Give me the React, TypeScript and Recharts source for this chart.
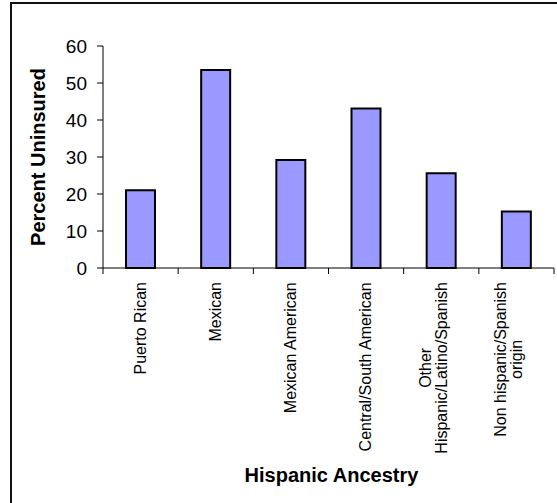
import { BarChart, Bar, XAxis, YAxis } from 'recharts'

const categories = [
  'Puerto Rican',
  'Mexican',
  'Mexican American',
  'Central/South American',
  'Other\nHispanic/Latino/Spanish',
  'Non hispanic/Spanish\norigin',
]
const uninsured = [21, 53.5, 29.2, 43.1, 25.6, 15.3]
const yTicks = [0, 10, 20, 30, 40, 50, 60]

const data = categories.map((name, i) => ({ name, value: uninsured[i] }))

const FONT = "Arial, 'Liberation Sans', sans-serif"

let ctx: CanvasRenderingContext2D | null = null
function measure(s: string, size: number) {
  if (!ctx) ctx = document.createElement('canvas').getContext('2d')
  if (!ctx) return s.length * size * 0.5
  ctx.font = `${size}px Arial, 'Liberation Sans', sans-serif`
  return ctx.measureText(s).width
}

// category labels rotated, plus tick marks on the category boundaries (Excel style)
function CategoryTick(props: any) {
  const { x, y, payload, index, visibleTicksCount, width } = props
  const half = payload.offset || width / visibleTicksCount / 2
  const lines = String(payload.value).split('\n')
  const size = 16
  const longest = Math.max(...lines.map((l) => measure(l, size)))
  const n = lines.length
  return (
    <g>
      <line x1={x - half} x2={x - half} y1={y} y2={y + 6} stroke="#000" />
      {index === visibleTicksCount - 1 && <line x1={x + half} x2={x + half} y1={y} y2={y + 6} stroke="#000" />}
      <g transform={`translate(${x},${y + 14}) rotate(-90)`}>
        {lines.map((line, i) => {
          const b = n === 1 ? 5 : -2 + (i - (n - 1) / 2) * 16
          return (
            <text key={i} x={-longest / 2} y={b} textAnchor="middle" fontSize={size} fontFamily={FONT} fill="#000">
              {line}
            </text>
          )
        })}
      </g>
    </g>
  )
}

function YTitle(props: any) {
  const vb = props.viewBox
  const cy = vb.y + vb.height / 2
  return (
    <text
      x={38}
      y={cy}
      transform={`rotate(-90, 38, ${cy})`}
      textAnchor="middle"
      dy={7}
      fontSize={20}
      fontWeight="bold"
      fontFamily={FONT}
      fill="#000"
    >
      Percent Uninsured
    </text>
  )
}

function XTitle(props: any) {
  const vb = props.viewBox
  return (
    <text
      x={vb.x + vb.width / 2 + 3}
      y={vb.y + vb.height}
      textAnchor="middle"
      fontSize={20}
      fontWeight="bold"
      fontFamily={FONT}
      fill="#000"
    >
      Hispanic Ancestry
    </text>
  )
}

export default function App() {
  return (
    <div style={{ position: 'absolute', left: 0, top: 0, width: 557, height: 503, overflow: 'hidden', background: '#fff' }}>
      <div style={{ position: 'absolute', left: 10, top: 2, width: 700, height: 700, border: '2px solid #111' }} />
      <div style={{ position: 'absolute', left: 0, top: 0 }}>
        <BarChart width={557} height={503} data={data} margin={{ top: 46, right: 3, bottom: 21, left: 0 }}>
          <XAxis
            dataKey="name"
            interval={0}
            height={214}
            tickLine={false}
            tickSize={0}
            tickMargin={0}
            axisLine={{ stroke: '#000' }}
            tick={<CategoryTick />}
            label={<XTitle />}
          />
          <YAxis
            width={103}
            domain={[0, 60]}
            ticks={yTicks}
            interval={0}
            tickSize={6}
            tickMargin={10}
            axisLine={{ stroke: '#000' }}
            tickLine={{ stroke: '#000' }}
            tick={{ fontSize: 19, fill: '#000', fontFamily: FONT }}
            label={<YTitle />}
          />
          <Bar dataKey="value" fill="#9999FF" stroke="#000" strokeWidth={2} barSize={29} isAnimationActive={false} />
        </BarChart>
      </div>
    </div>
  )
}
